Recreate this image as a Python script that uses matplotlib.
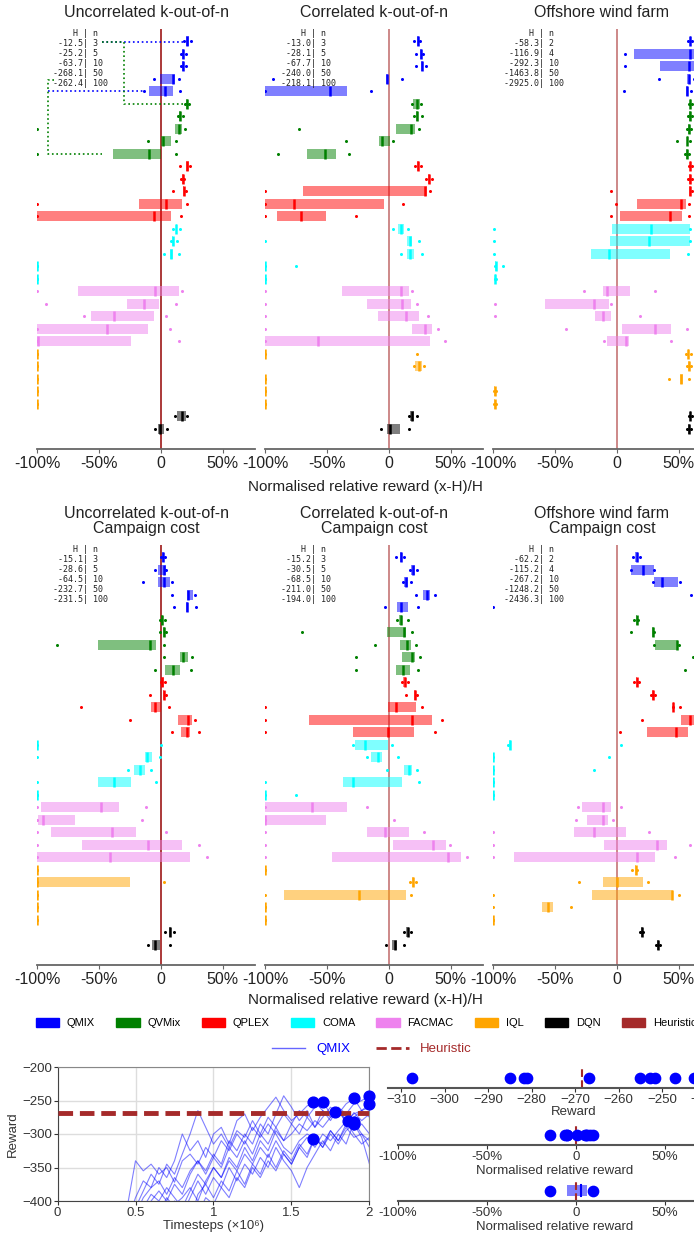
import numpy as np
import matplotlib
matplotlib.use("Agg")
import matplotlib.pyplot as plt
from matplotlib.patches import Patch
from matplotlib.lines import Line2D

plt.rcParams['font.family'] = ['Liberation Sans', 'DejaVu Sans']

# ---------------- data ----------------
algorithms = ["QMIX", "QVMix", "QPLEX", "COMA", "FACMAC", "IQL", "DQN"]
algo_colors = ["#0000ff", "#008000", "#ff0000", "#00ffff", "#ee82ee", "#ffa500", "#000000"]
heuristic_color = "#a52a2a"

M = (-1, -1, -1, -1, -1)  # collapsed at -100%

# each row: (min, q1, median, q3, max) of normalised relative reward
uncorr_stats = {
    "QMIX": [(0.19, 0.205, 0.215, 0.225, 0.24), (0.16, 0.17, 0.18, 0.19, 0.20), (0.16, 0.17, 0.18, 0.19, 0.20),
             (-0.054, -0.008, 0.094, 0.115, 0.148), (-0.135, -0.097, 0.03, 0.097, 0.156)],
    "QVMix": [(0.195, 0.205, 0.212, 0.22, 0.23), (0.135, 0.145, 0.156, 0.165, 0.175), (-1.0, 0.115, 0.145, 0.167, 0.194),
              (-0.107, 0.0, 0.019, 0.083, 0.121), (-1.0, -0.385, -0.097, 0.0, 0.121)],
    "QPLEX": [(0.153, 0.205, 0.215, 0.225, 0.235), (0.165, 0.172, 0.177, 0.183, 0.19), (0.1, 0.178, 0.185, 0.19, 0.2),
              (-1.0, -0.175, 0.043, 0.167, 0.207), (-1.0, -1.0, -0.059, 0.078, 0.159)],
    "COMA": [(0.1, 0.12, 0.126, 0.132, 0.156), (0.08, 0.088, 0.094, 0.1, 0.134), (0.022, 0.07, 0.08, 0.097, 0.15), M, M],
    "FACMAC": [(-1.0, -0.667, -0.048, 0.145, 0.172), (-0.93, -0.272, -0.135, -0.019, 0.124),
               (-0.62, -0.562, -0.382, -0.059, 0.038), (-1.0, -1.0, -0.438, -0.105, 0.073),
               (-1.0, -1.0, -0.995, -0.245, 0.143)],
    "IQL": [M, M, M, M, M],
    "DQN": [(0.113, 0.132, 0.169, 0.199, 0.212), (-0.051, -0.024, -0.008, 0.022, 0.048)],
}
corr_stats = {
    "QMIX": [(0.20, 0.23, 0.237, 0.245, 0.253), (0.22, 0.25, 0.258, 0.265, 0.274), (0.223, 0.262, 0.269, 0.276, 0.296),
             (-0.938, -0.025, -0.016, -0.007, 0.108), (-1.0, -1.0, -0.476, -0.341, -0.148)],
    "QVMix": [(0.183, 0.196, 0.228, 0.25, 0.258), (0.199, 0.22, 0.228, 0.236, 0.266), (-0.728, 0.059, 0.18, 0.21, 0.247),
              (-0.344, -0.078, -0.059, 0.013, 0.03), (-0.892, -0.659, -0.519, -0.425, -0.325)],
    "QPLEX": [(0.21, 0.228, 0.237, 0.245, 0.262), (0.30, 0.315, 0.323, 0.33, 0.345), (-1.0, -0.691, 0.29, 0.304, 0.333),
              (-1.0, -1.0, -0.763, -0.04, 0.116), (-1.0, -0.903, -0.71, -0.511, -0.269)],
    "COMA": [(0.035, 0.073, 0.1, 0.124, 0.151), (-1.0, 0.148, 0.167, 0.188, 0.245), (0.1, 0.145, 0.172, 0.204, 0.264),
             (-1, -1, -1, -1, -0.747), M],
    "FACMAC": [(-1, -0.382, 0.1, 0.161, 0.188), (-1, -0.177, 0.108, 0.175, 0.228), (-1, -0.089, 0.142, 0.242, 0.317),
               (-1, 0.185, 0.288, 0.352, 0.4), (-1, -1, -0.573, 0.331, 0.457)],
    "IQL": [(-1, -1, -1, -1, 0.228), (0.199, 0.212, 0.242, 0.264, 0.282), M, M, M],
    "DQN": [(0.164, 0.169, 0.188, 0.204, 0.226), (-0.067, -0.016, 0.013, 0.089, 0.164)],
}
wind_stats = {
    "QMIX": [(0.575, 0.59, 0.594, 0.598, 0.61), (0.065, 0.14, 0.589, 0.65, 0.8), (0.068, 0.347, 0.585, 0.65, 0.8),
             (0.34, 0.57, 0.58, 0.59, 0.62), (0.056, 0.56, 0.567, 0.575, 0.6)],
    "QVMix": [(0.58, 0.588, 0.594, 0.6, 0.61), (0.575, 0.583, 0.589, 0.595, 0.605), (0.57, 0.578, 0.583, 0.59, 0.6),
              (0.489, 0.565, 0.57, 0.578, 0.59), (0.55, 0.56, 0.567, 0.575, 0.585)],
    "QPLEX": [(0.58, 0.59, 0.594, 0.6, 0.61), (0.578, 0.586, 0.591, 0.597, 0.607), (-0.046, 0.583, 0.589, 0.595, 0.605),
              (-0.011, 0.162, 0.514, 0.557, 0.583), (-0.046, 0.027, 0.43, 0.524, 0.58)],
    "COMA": [(-0.99, -0.04, 0.274, 0.589, 0.589), (-0.99, -0.056, 0.261, 0.589, 0.589),
             (-0.99, -0.206, -0.062, 0.43, 0.578), (-0.985, -0.985, -0.978, -0.975, -0.92),
             (-0.985, -0.985, -0.98, -0.975, -0.975)],
    "FACMAC": [(-0.263, -0.11, -0.078, 0.108, 0.304), (-0.984, -0.581, -0.181, -0.062, -0.046),
               (-0.984, -0.175, -0.108, -0.05, 0.19), (-0.414, 0.04, 0.309, 0.438, 0.567),
               (-0.103, -0.078, 0.07, 0.102, 0.44)],
    "IQL": [(0.56, 0.572, 0.578, 0.584, 0.595), (0.565, 0.577, 0.583, 0.589, 0.6), (0.422, 0.513, 0.52, 0.53, 0.583),
            (-0.995, -0.988, -0.984, -0.98, -0.973), (-0.995, -0.988, -0.984, -0.98, -0.973)],
    "DQN": [(0.58, 0.59, 0.594, 0.598, 0.61), (0.57, 0.578, 0.583, 0.588, 0.6)],
}
uncorr_cc_stats = {
    "QMIX": [(0.0, 0.01, 0.016, 0.022, 0.03), (-0.051, -0.024, 0.022, 0.038, 0.043), (-0.148, -0.024, 0.027, 0.073, 0.089),
             (0.086, 0.212, 0.223, 0.263, 0.274), (0.108, 0.203, 0.21, 0.217, 0.28)],
    "QVMix": [(-0.008, 0.003, 0.008, 0.014, 0.03), (-0.005, 0.018, 0.024, 0.03, 0.038),
              (-0.836, -0.505, -0.086, -0.043, 0.024), (0.022, 0.156, 0.177, 0.223, 0.253),
              (-0.051, 0.032, 0.102, 0.153, 0.242)],
    "QPLEX": [(0.0, 0.005, 0.013, 0.024, 0.03), (-0.091, 0.016, 0.022, 0.028, 0.043), (-0.648, -0.081, -0.046, 0.003, 0.062),
              (-0.25, 0.137, 0.22, 0.25, 0.277), (0.089, 0.161, 0.215, 0.239, 0.309)],
    "COMA": [(-1, -1, -1, -1, 0.003), (-1, -0.129, -0.108, -0.07, -0.008), (-0.263, -0.215, -0.172, -0.132, -0.081),
             (-1, -0.511, -0.376, -0.245, -0.038), M],
    "FACMAC": [(-1, -0.97, -0.484, -0.341, -0.124), (-1, -0.995, -0.949, -0.696, -0.156),
               (-1, -0.884, -0.392, -0.204, 0.043), (-1, -0.634, -0.1, 0.167, 0.309), (-1, -1, -0.411, 0.239, 0.374)],
    "IQL": [M, (-1, -1, -1, -0.253, 0.024), M, M, M],
    "DQN": [(0.03, 0.062, 0.07, 0.078, 0.11), (-0.1, -0.07, -0.048, -0.011, 0.073)],
}
corr_cc_stats = {
    "QMIX": [(0.06, 0.09, 0.1, 0.11, 0.12), (0.167, 0.177, 0.196, 0.215, 0.231), (0.118, 0.126, 0.142, 0.156, 0.18),
             (0.218, 0.277, 0.306, 0.336, 0.374), (-0.03, 0.065, 0.094, 0.151, 0.239)],
    "QVMix": [(0.062, 0.083, 0.102, 0.11, 0.151), (-0.699, -0.016, 0.124, 0.142, 0.188), (-0.108, 0.089, 0.148, 0.177, 0.22),
              (-0.269, 0.108, 0.185, 0.207, 0.255), (-0.269, 0.059, 0.118, 0.167, 0.239)],
    "QPLEX": [(0.108, 0.116, 0.132, 0.142, 0.156), (0.142, 0.2, 0.21, 0.222, 0.228), (-1, -0.008, 0.054, 0.223, 0.266),
              (-1, -0.645, 0.185, 0.35, 0.425), (-1, -0.293, -0.003, 0.202, 0.376)],
    "COMA": [(-0.288, -0.274, -0.194, -0.011, 0.027), (-0.177, -0.145, -0.086, -0.059, 0.075),
             (-0.019, 0.121, 0.161, 0.188, 0.228), (-1, -0.371, -0.288, 0.108, 0.245), (-1, -1, -1, -1, -0.747)],
    "FACMAC": [(-1, -1, -0.624, -0.339, -0.177), (-1, -1, -1, -0.505, 0.043), (-1, -0.177, -0.032, 0.159, 0.282),
               (-1, 0.035, 0.358, 0.46, 0.494), (-1, -0.462, 0.479, 0.581, 0.632)],
    "IQL": [M, (0.169, 0.185, 0.196, 0.205, 0.218), (-1, -0.847, -0.245, 0.137, 0.18), M, M],
    "DQN": [(0.121, 0.137, 0.151, 0.164, 0.18), (-0.022, 0.027, 0.046, 0.067, 0.121)],
}
wind_cc_stats = {
    "QMIX": [(0.13, 0.15, 0.16, 0.17, 0.19), (0.113, 0.113, 0.207, 0.298, 0.298), (0.293, 0.301, 0.368, 0.492, 0.511),
             (0.602, 0.66, 0.68, 0.72, 0.75), (-1.0, 0.70, 0.72, 0.74, 0.76)],
    "QVMix": [(0.14, 0.152, 0.159, 0.165, 0.167), (0.113, 0.287, 0.293, 0.298, 0.298), (0.296, 0.306, 0.484, 0.49, 0.505),
              (0.616, 0.7, 0.72, 0.74, 0.8), (0.554, 0.7, 0.72, 0.74, 0.8)],
    "QPLEX": [(0.14, 0.152, 0.159, 0.165, 0.175), (0.275, 0.287, 0.293, 0.298, 0.31), (0.45, 0.452, 0.457, 0.462, 0.508),
              (0.199, 0.52, 0.594, 0.7, 0.8), (0.027, 0.245, 0.478, 0.575, 0.8)],
    "COMA": [(-0.875, -0.868, -0.863, -0.858, 0.03), (-1, -1, -1, -1, -0.065), (-1, -1, -1, -1, -0.183), M, M],
    "FACMAC": [(-0.312, -0.282, -0.113, -0.046, 0.03), (-0.33, -0.239, -0.11, -0.075, -0.03),
               (-1, -0.347, -0.188, 0.07, 0.263), (-1, -0.102, 0.32, 0.401, 0.594), (-1, -0.831, 0.164, 0.306, 0.47)],
    "IQL": [(0.124, 0.148, 0.153, 0.158, 0.164), (-0.304, -0.11, -0.002, 0.21, 0.253), (-1, -0.199, 0.444, 0.457, 0.503),
            (-1, -0.605, -0.556, -0.513, -0.371), M],
    "DQN": [(0.19, 0.195, 0.202, 0.209, 0.215), (0.318, 0.325, 0.331, 0.337, 0.345)],
}

n_kn = [3, 5, 10, 50, 100]
n_wind = [2, 4, 10, 50, 100]
H_uncorr = [-12.5, -25.2, -63.7, -268.1, -262.4]
H_corr = [-13.0, -28.1, -67.7, -240.0, -218.1]
H_wind = [-58.3, -116.9, -292.3, -1463.8, -2925.0]
H_uncorr_cc = [-15.1, -28.6, -64.5, -232.7, -231.5]
H_corr_cc = [-15.2, -30.5, -68.5, -211.0, -194.0]
H_wind_cc = [-62.2, -115.2, -267.2, -1248.2, -2436.3]

panel_titles = ["Uncorrelated k-out-of-n", "Correlated k-out-of-n", "Offshore wind farm",
                "Uncorrelated k-out-of-n\nCampaign cost", "Correlated k-out-of-n\nCampaign cost",
                "Offshore wind farm\nCampaign cost"]

# QMIX learning curves (timesteps in millions) for the example environment
timesteps = [0.40, 0.45, 0.50, 0.55, 0.60, 0.65, 0.70, 0.75, 0.80, 0.85, 0.90, 0.95, 1.00, 1.05, 1.10, 1.15,
             1.20, 1.25, 1.30, 1.35, 1.40, 1.45, 1.50, 1.55, 1.60, 1.65, 1.70, 1.75, 1.80, 1.85, 1.90, 1.95, 2.00]
qmix_curves = [
    [-440, -405, -340, -355, -345, -360, -350, -372, -340, -330, -345, -320, -335, -310, -325, -300, -315, -290,
     -305, -285, -300, -320, -330, -310, -300, -307, -315, -295, -310, -290, -305, -300, -310],
    [-450, -430, -395, -370, -380, -350, -365, -340, -300, -325, -310, -335, -300, -290, -315, -280, -270, -295,
     -275, -260, -245, -265, -280, -270, -258, -253, -265, -275, -262, -280, -270, -265, -275],
    [-460, -440, -410, -385, -360, -375, -345, -360, -330, -300, -265, -290, -315, -300, -320, -295, -305, -280,
     -300, -275, -290, -270, -285, -265, -275, -260, -252, -270, -262, -285, -268, -280, -270],
    [-470, -450, -420, -395, -380, -370, -390, -365, -380, -355, -340, -360, -335, -350, -320, -335, -310, -330,
     -300, -315, -290, -310, -300, -285, -295, -280, -290, -275, -267, -280, -295, -285, -300],
    [-480, -460, -430, -410, -390, -400, -380, -395, -410, -385, -360, -375, -350, -365, -340, -355, -330, -345,
     -320, -335, -310, -330, -345, -320, -305, -320, -300, -310, -295, -281, -300, -315, -305],
    [-490, -470, -440, -420, -400, -385, -400, -375, -390, -360, -340, -355, -330, -345, -310, -325, -300, -315,
     -285, -300, -270, -243, -260, -280, -265, -290, -275, -260, -270, -255, -247, -265, -260],
    [-500, -480, -455, -430, -410, -420, -395, -410, -420, -395, -370, -390, -365, -380, -350, -370, -345, -360,
     -335, -350, -320, -340, -355, -380, -350, -330, -310, -325, -300, -315, -282, -300, -320],
    [-500, -490, -470, -440, -425, -405, -420, -400, -410, -430, -390, -375, -395, -370, -385, -355, -375, -345,
     -360, -330, -350, -325, -340, -315, -330, -305, -320, -300, -315, -295, -285, -305, -345],
    [-500, -500, -480, -455, -435, -415, -430, -405, -395, -380, -400, -370, -350, -365, -335, -350, -320, -340,
     -310, -325, -295, -310, -285, -300, -275, -290, -265, -280, -260, -270, -255, -250, -243],
    [-500, -500, -490, -470, -450, -430, -440, -420, -430, -410, -420, -395, -405, -380, -395, -365, -380, -350,
     -365, -340, -355, -330, -345, -320, -335, -305, -320, -295, -310, -285, -275, -265, -255],
]
best_timesteps = [1.64, 1.64, 1.70, 1.78, 1.86, 1.90, 1.90, 1.90, 2.0, 2.0]
best_rewards = [-307.4, -252.7, -251.6, -266.8, -281.1, -247.0, -281.8, -285.0, -242.7, -255.0]
heuristic_reward = -268.3

# ---------------- figure ----------------
W, Hpx = 694, 1235
fig = plt.figure(figsize=(W / 100, Hpx / 100), dpi=100)


def fx(px):
    return px / W


def fy(py):
    return 1 - py / Hpx


XMAX = 0.76
panel_left = [37, 265, 493]
panel_w = 218
rows_top = [(28.5, 449), (544.5, 965)]
YLIM = (32.64, -1)


def draw_panel(ax, stats, Hs, ns, title, zero_alpha):
    k = 0
    for algo, col in zip(algorithms, algo_colors):
        for (lo, q1, med, q3, hi) in stats[algo]:
            if q3 > q1:
                ax.barh(k, q3 - q1, left=q1, height=0.8, color=col, alpha=0.5, linewidth=0)
            ax.plot([med, med], [k - 0.4, k + 0.4], color=col, lw=1.8, solid_capstyle='butt')
            ax.plot([lo, hi], [k, k], 'o', color=col, ms=2.2, mew=0)
            k += 1
    ax.axvline(0, color=heuristic_color, lw=1.3, alpha=zero_alpha, zorder=0.5)
    ax.set_xlim(-1, XMAX)
    ax.set_ylim(*YLIM)
    for s in ["left", "right", "top"]:
        ax.spines[s].set_visible(False)
    ax.spines["bottom"].set_color("#666666")
    ax.spines["bottom"].set_linewidth(1.3)
    ax.set_yticks([])
    ax.set_xticks([-1, -0.5, 0, 0.5])
    ax.set_xticklabels(["-100%", "-50%", "0", "50%"], fontsize=11.5, color="#222222")
    ax.tick_params(axis='x', length=3, color="#666666", pad=2)
    ax.set_title(title, fontsize=11.5, color="#222222", pad=8, linespacing=1.05)
    width = max(len(f"{h:.1f}") for h in Hs)
    lines = [" " * (width - 2) + "H | n"] + [f"{h:>{width}.1f}| {n}" for h, n in zip(Hs, ns)]
    ax.text(-0.425, -0.95, "\n".join(lines), family="DejaVu Sans Mono", fontsize=6, ha="right",
            va="top", multialignment="left", linespacing=1.15, color="#222222")


stats_list = [uncorr_stats, corr_stats, wind_stats, uncorr_cc_stats, corr_cc_stats, wind_cc_stats]
H_list = [H_uncorr, H_corr, H_wind, H_uncorr_cc, H_corr_cc, H_wind_cc]
n_list = [n_kn, n_kn, n_wind, n_kn, n_kn, n_wind]

axes = []
for i in range(6):
    r, c = divmod(i, 3)
    top, bot = rows_top[r]
    ax = fig.add_axes([fx(panel_left[c]), fy(bot), fx(panel_w), (bot - top) / Hpx])
    draw_panel(ax, stats_list[i], H_list[i], n_list[i], panel_titles[i], 1.0 if c == 0 else 0.6)
    axes.append(ax)

# dotted guide lines (table -> rows) in first panel
ax0 = axes[0]
ax0.plot([-0.476, 0.194], [0.05, 0.05], ls=':', color='blue', lw=1.2)
ax0.plot([-0.911, -0.145], [3.97, 3.97], ls=':', color='blue', lw=1.2)
ax0.plot([-0.476, -0.298, -0.298, 0.21], [0.05, 0.05, 5.05, 5.05], ls=':', color='green', lw=1.2)
ax0.plot([-0.86, -0.911, -0.911, -0.476], [3.12, 3.12, 9.0, 9.0], ls=':', color='green', lw=1.2)

fig.text(fx(365), fy(487), "Normalised relative reward (x-H)/H", ha="center", va="center", fontsize=11,
         color="#222222")
fig.text(fx(365), fy(1000), "Normalised relative reward (x-H)/H", ha="center", va="center", fontsize=11,
         color="#222222")

# legend of algorithms
handles = [Patch(color=c) for c in algo_colors] + [Patch(color=heuristic_color)]
labels = algorithms + ["Heuristic"]
fig.legend(handles, labels, loc="center", bbox_to_anchor=(fx(366), fy(1023)), ncol=8, frameon=False,
           fontsize=8, handlelength=2.1, handleheight=0.9, columnspacing=1.9, handletextpad=0.7)

# learning curve axes
axl = fig.add_axes([fx(57.5), fy(1201), fx(312), 134 / Hpx])
for curve in qmix_curves:
    axl.plot(timesteps, curve, color="blue", alpha=0.5, lw=0.8)
axl.scatter(best_timesteps, best_rewards, s=60, color="blue", zorder=4, clip_on=False)
axl.axhline(heuristic_reward, color=heuristic_color, lw=3.5, ls=(0, (3.0, 1.4)), zorder=3)
axl.set_xlim(0, 2)
axl.set_ylim(-400, -200)
axl.set_xticks([0, 0.5, 1, 1.5, 2])
axl.set_xticklabels(["0", "0.5", "1", "1.5", "2"])
axl.set_yticks([-400, -350, -300, -250, -200])
axl.grid(True, color="#dddddd", lw=1.0)
axl.set_axisbelow(True)
for s in axl.spines.values():
    s.set_color("#888888")
axl.spines["left"].set_color("#444444")
axl.spines["bottom"].set_color("#444444")
axl.tick_params(labelsize=9.5, length=3, pad=1, colors="#333333")
axl.set_xlabel("Timesteps (×10⁶)", fontsize=9.5, labelpad=1, color="#333333")
axl.set_ylabel("Reward", fontsize=9.5, labelpad=2, color="#333333")

leg2 = [Line2D([], [], color="blue", alpha=0.6, lw=1.0), Line2D([], [], color=heuristic_color, lw=2, ls="--")]
fig.legend(leg2, ["QMIX", "Heuristic"], loc="center", bbox_to_anchor=(fx(372), fy(1049)), ncol=2,
           frameon=False, fontsize=9.5, labelcolor=["blue", heuristic_color], handlelength=2.5,
           columnspacing=2.0)

# strip plots
rel = [(r - heuristic_reward) / abs(heuristic_reward) for r in best_rewards]


def strip_axes(bottom_px, left_px, right_px):
    a = fig.add_axes([fx(left_px), fy(bottom_px), fx(right_px - left_px), 21 / Hpx])
    for s in ["left", "right", "top"]:
        a.spines[s].set_visible(False)
    a.spines["bottom"].set_color("#555555")
    a.spines["bottom"].set_linewidth(1.5)
    a.set_yticks([])
    a.set_ylim(-1, 1)
    a.patch.set_alpha(0)
    a.tick_params(axis="x", labelsize=9.5, length=3, pad=1, colors="#333333")
    return a


s1 = strip_axes(1088, 388, 760)
s1.scatter(best_rewards, [0] * len(best_rewards), s=55, color="blue", zorder=3)
s1.axvline(heuristic_reward, color=heuristic_color, ls="--", lw=1.5)
s1.set_xlim(-313, -227.5)
s1.set_xticks(list(range(-310, -229, 10)))
s1.set_xlabel("Reward", fontsize=9.5, labelpad=0, color="#333333")

s2 = strip_axes(1145, 398, 711)
s2.scatter(rel, [0] * len(rel), s=55, color="blue", zorder=3)
s2.axvline(0, color=heuristic_color, ls="--", lw=1.5)
s2.set_xlim(-1, XMAX)
s2.set_xticks([-1, -0.5, 0, 0.5])
s2.set_xticklabels(["-100%", "-50%", "0", "50%"])
s2.set_xlabel("Normalised relative reward", fontsize=9.5, labelpad=2, color="#333333")

s3 = strip_axes(1201, 398, 711)
q1, med, q3 = np.percentile(rel, [25, 50, 75])
s3.barh(0, q3 - q1, left=q1, height=1.1, color="blue", alpha=0.5, linewidth=0)
s3.plot([med, med], [-0.55, 0.55], color="blue", lw=1.5)
s3.scatter([min(rel), max(rel)], [0, 0], s=55, color="blue", zorder=3)
s3.axvline(0, color=heuristic_color, ls="--", lw=1.5)
s3.set_xlim(-1, XMAX)
s3.set_xticks([-1, -0.5, 0, 0.5])
s3.set_xticklabels(["-100%", "-50%", "0", "50%"])
s3.set_xlabel("Normalised relative reward", fontsize=9.5, labelpad=2, color="#333333")

fig.savefig("out.png", dpi=100)
